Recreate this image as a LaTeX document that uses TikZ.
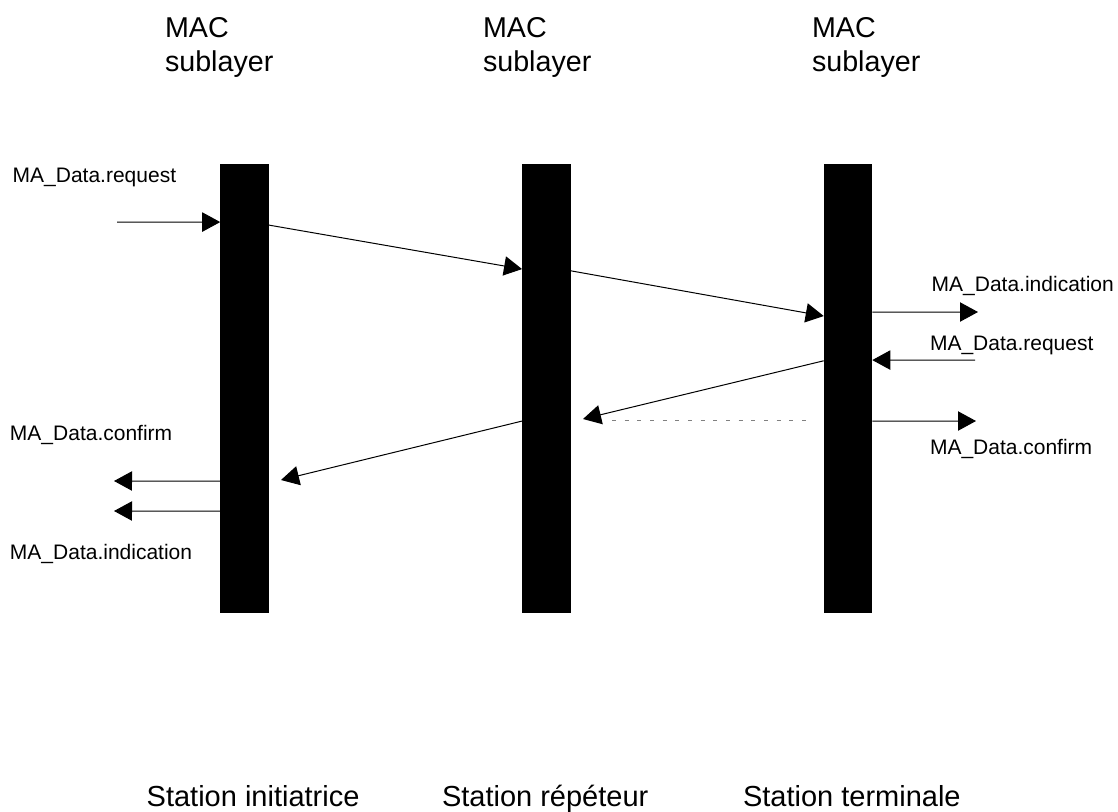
\documentclass[tikz,border=0pt]{standalone}
\usepackage{fontspec}
\setmainfont{Liberation Sans}
\usetikzlibrary{arrows.meta, positioning, calc}

\begin{document}
\begin{tikzpicture}[
    x=0.75pt, y=-0.75pt,
    >={Triangle[length=13.5pt, width=14.5pt]},
    every node/.style={inner sep=0pt, outer sep=0pt},
    bar/.style={
        draw=none, fill=black,
        minimum width=36.4pt, minimum height=336.5pt
    },
    msg/.style={draw=black, line width=0.75pt, -{>}},
    back/.style={draw=cDot, line width=0.75pt, dash pattern=on 3pt off 6.5pt},
    prim/.style={anchor=base west, font=\fontsize{15.75}{18}\selectfont},
    head/.style={anchor=base west, align=left, font=\fontsize{21.5}{25.3}\selectfont},
    station/.style={anchor=base west, font=\fontsize{21.75}{26}\selectfont}
]
\definecolor{cDot}{RGB}{128,128,128}

\useasboundingbox (0,0) rectangle (1118,811);

% MAC sublayers
\node[bar] (mac1) at (244.5,388.4) {};
\node[bar] (mac2) at (546.3,388.4) {};
\node[bar] (mac3) at (848.0,388.4) {};

\node[head] (head1) at (165,71.7) {MAC\\sublayer};
\node[head] (head2) at (483,71.7) {MAC\\sublayer};
\node[head] (head3) at (812,71.7) {MAC\\sublayer};

% Stations
\node[station] (sta1) at (146.7,806) {Station initiatrice};
\node[station] (sta2) at (442,806) {Station répéteur};
\node[station] (sta3) at (743,806) {Station terminale};

% Primitives
\node[prim] (reqL) at (12.7,182.3) {MA\_Data.request};
\node[prim] (cnfL) at (10,440.7) {MA\_Data.confirm};
\node[prim] (indL) at (10,559) {MA\_Data.indication};
\node[prim] (indR) at (931.7,291) {MA\_Data.indication};
\node[prim] (reqR) at (930,350) {MA\_Data.request};
\node[prim] (cnfR) at (930,454.3) {MA\_Data.confirm};

% Free ends
\coordinate (src1) at (117,222);
\coordinate (cnf1) at (114,481);
\coordinate (ind1) at (114,511);
\coordinate (ind3) at (978,312);
\coordinate (req3) at (975,360);
\coordinate (cnf3) at (976,421);
\coordinate (ret2) at (583,419);
\coordinate (ret1) at (281,480);
\coordinate (dotA) at (612,420);
\coordinate (dotB) at (812,420);

% Frames
\draw[msg] (src1) -- ($(mac1.north west)+(0,58)$);
\draw[msg] ($(mac1.north east)+(0,61)$) -- ($(mac2.north west)+(0,105)$);
\draw[msg] ($(mac2.north east)+(0,106.7)$) -- ($(mac3.north west)+(0,152)$);
\draw[msg] ($(mac3.north east)+(0,148)$) -- (ind3);
\draw[msg] (req3) -- ($(mac3.north east)+(0,196)$);
\draw[msg] ($(mac3.north east)+(0,257)$) -- (cnf3);
\draw[msg] ($(mac3.north west)+(0,196.7)$) -- (ret2);
\draw[back] (dotA) -- (dotB);
\draw[msg] ($(mac2.north west)+(0,257)$) -- (ret1);
\draw[msg] ($(mac1.north west)+(0,317)$) -- (cnf1);
\draw[msg] ($(mac1.north west)+(0,347)$) -- (ind1);

\end{tikzpicture}
\end{document}
